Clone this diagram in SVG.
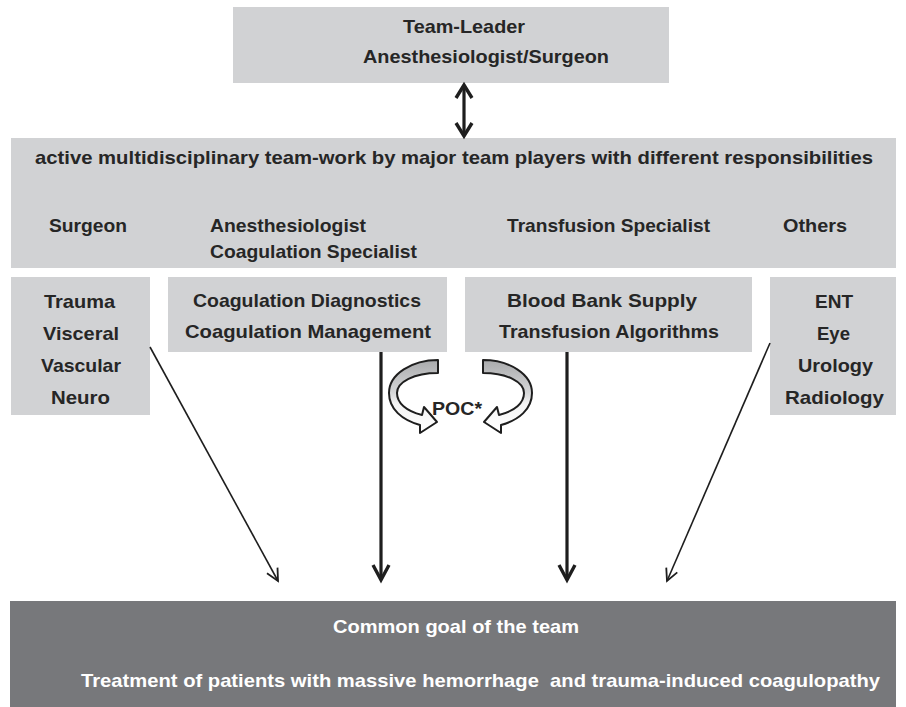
<svg xmlns="http://www.w3.org/2000/svg" width="906" height="707" viewBox="0 0 906 707">
<style>
.box{fill:#d1d2d4;}
.dark{fill:#77787b;}
text{font-family:"Liberation Sans",Arial,sans-serif;font-weight:bold;font-size:19px;fill:#262626;}
.w{fill:#ffffff;}
.thick{stroke:#1e1e1e;stroke-width:3.2;fill:none;}
.thin{stroke:#1e1e1e;stroke-width:1.6;fill:none;}
.poc{stroke:#1e1e1e;stroke-width:2;stroke-linejoin:round;fill:url(#rib);}
</style>
<defs>
<marker id="hThick" markerUnits="userSpaceOnUse" markerWidth="24" markerHeight="24" viewBox="-20 -12 24 24" refX="0" refY="0" orient="auto" overflow="visible">
<path d="M-15,-8 L0,0 L-15,8" fill="none" stroke="#1e1e1e" stroke-width="3.4" stroke-linejoin="miter"/>
</marker>
<marker id="hThin" markerUnits="userSpaceOnUse" markerWidth="20" markerHeight="20" viewBox="-16 -10 20 20" refX="0" refY="0" orient="auto" overflow="visible">
<path d="M-12,-6 L0,0 L-12,6" fill="none" stroke="#1e1e1e" stroke-width="1.8"/>
</marker>
<linearGradient id="rib" x1="0" y1="0" x2="0" y2="1">
<stop offset="0" stop-color="#a9aaac"/>
<stop offset="0.45" stop-color="#d6d7d8"/>
<stop offset="0.6" stop-color="#f4f4f4"/>
<stop offset="1" stop-color="#ffffff"/>
</linearGradient>
</defs>

<g id="team-leader">
<rect class="box" x="233" y="7" width="436" height="76"/>
<text x="403" y="33" textLength="122" lengthAdjust="spacingAndGlyphs">Team-Leader</text>
<text x="363" y="63" textLength="246" lengthAdjust="spacingAndGlyphs">Anesthesiologist/Surgeon</text>
</g>

<g id="team-work">
<rect class="box" x="11" y="138" width="885" height="130"/>
<text x="35" y="164" textLength="838" lengthAdjust="spacingAndGlyphs">active multidisciplinary team-work by major team players with different responsibilities</text>
<text x="49" y="232" textLength="78" lengthAdjust="spacingAndGlyphs">Surgeon</text>
<text x="210" y="232" textLength="156" lengthAdjust="spacingAndGlyphs">Anesthesiologist</text>
<text x="210" y="258" textLength="207" lengthAdjust="spacingAndGlyphs">Coagulation Specialist</text>
<text x="507" y="232" textLength="203" lengthAdjust="spacingAndGlyphs">Transfusion Specialist</text>
<text x="783" y="232" textLength="64" lengthAdjust="spacingAndGlyphs">Others</text>
</g>

<g id="surgeon-box">
<rect class="box" x="11" y="277" width="139" height="138"/>
<text x="44" y="308" textLength="71" lengthAdjust="spacingAndGlyphs">Trauma</text>
<text x="43" y="340" textLength="76" lengthAdjust="spacingAndGlyphs">Visceral</text>
<text x="41" y="372" textLength="80" lengthAdjust="spacingAndGlyphs">Vascular</text>
<text x="51" y="404" textLength="59" lengthAdjust="spacingAndGlyphs">Neuro</text>
</g>

<g id="coag-box">
<rect class="box" x="168" y="277" width="279" height="75"/>
<text x="193" y="307" textLength="228" lengthAdjust="spacingAndGlyphs">Coagulation Diagnostics</text>
<text x="185" y="338" textLength="246" lengthAdjust="spacingAndGlyphs">Coagulation Management</text>
</g>

<g id="blood-box">
<rect class="box" x="465" y="277" width="287" height="75"/>
<text x="507" y="307" textLength="190" lengthAdjust="spacingAndGlyphs">Blood Bank Supply</text>
<text x="499" y="338" textLength="220" lengthAdjust="spacingAndGlyphs">Transfusion Algorithms</text>
</g>

<g id="others-box">
<rect class="box" x="770" y="277" width="126" height="138"/>
<text x="815" y="308" textLength="38" lengthAdjust="spacingAndGlyphs">ENT</text>
<text x="817" y="340" textLength="33" lengthAdjust="spacingAndGlyphs">Eye</text>
<text x="798" y="372" textLength="75" lengthAdjust="spacingAndGlyphs">Urology</text>
<text x="785" y="404" textLength="99" lengthAdjust="spacingAndGlyphs">Radiology</text>
</g>

<g id="poc">
<path class="poc" d="M438,360 C412,360 389,374 389,393 C389,409 402,420 420,425 L420,433 L437,422 L424,407 L422,415 C406,411 397,403 397,393 C397,382 414,373 438,373 Z"/>
<path class="poc" transform="translate(921,0) scale(-1,1)" d="M438,360 C412,360 389,374 389,393 C389,409 402,420 420,425 L420,433 L437,422 L424,407 L422,415 C406,411 397,403 397,393 C397,382 414,373 438,373 Z"/>
<text x="432" y="415" textLength="50" lengthAdjust="spacingAndGlyphs">POC*</text>
</g>

<g id="goal">
<rect class="dark" x="10" y="601" width="886" height="106"/>
<text class="w" x="333" y="633" textLength="246" lengthAdjust="spacingAndGlyphs">Common goal of the team</text>
<text class="w" x="81" y="687" textLength="799" lengthAdjust="spacingAndGlyphs" xml:space="preserve">Treatment of patients with massive hemorrhage  and trauma-induced coagulopathy</text>
</g>

<g id="connectors">
<line class="thick" x1="464" y1="87" x2="464" y2="134"/>
<path d="M456,98 L464,85 L472,98" fill="none" stroke="#1e1e1e" stroke-width="3.4"/>
<path d="M456,123 L464,136 L472,123" fill="none" stroke="#1e1e1e" stroke-width="3.4"/>
<line class="thick" x1="381" y1="352" x2="381" y2="580" marker-end="url(#hThick)"/>
<line class="thick" x1="567" y1="352" x2="567" y2="580" marker-end="url(#hThick)"/>
<line class="thin" x1="150" y1="347" x2="278" y2="581" marker-end="url(#hThin)"/>
<line class="thin" x1="770" y1="343" x2="667" y2="581" marker-end="url(#hThin)"/>
</g>
</svg>
